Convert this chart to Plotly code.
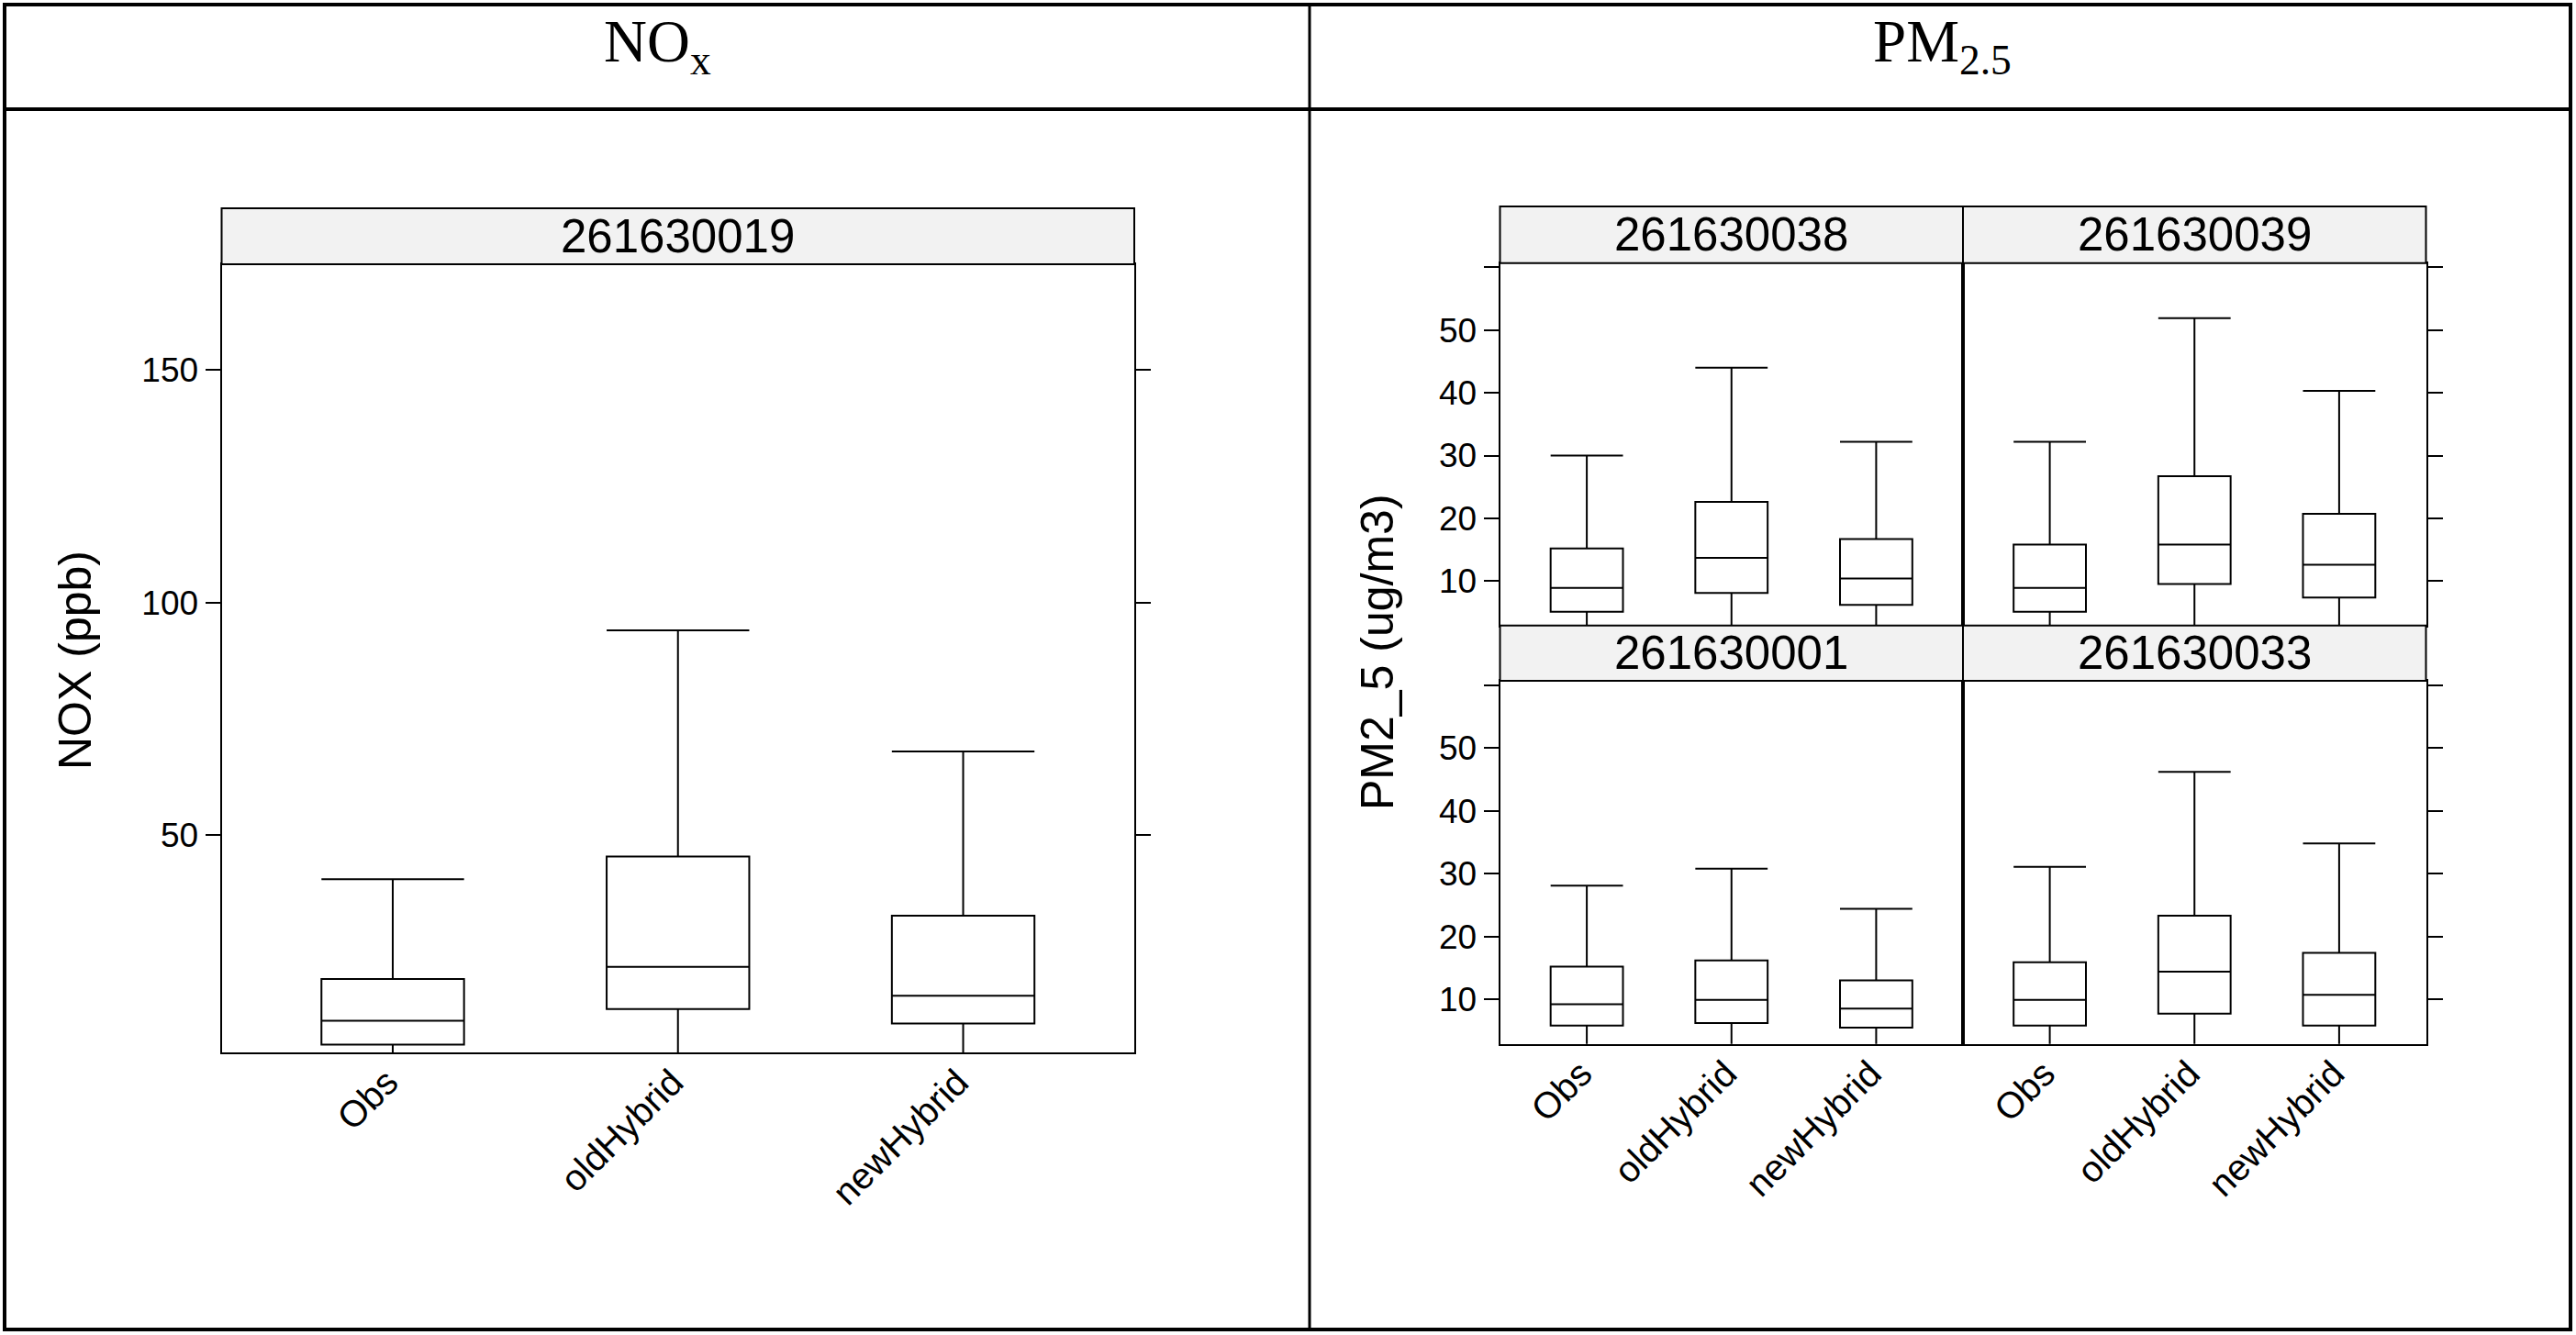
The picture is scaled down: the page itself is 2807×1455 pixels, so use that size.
import plotly.graph_objects as go

W, H = 2807, 1455

# ---------------- data ----------------
categories = ["Obs", "oldHybrid", "newHybrid"]

# NOx, site 261630019
nox_site = "261630019"
nox_lower = [1.0, 1.5, 1.0]
nox_q1 = [5.0, 12.6, 9.5]
nox_median = [10.1, 21.7, 15.5]
nox_q3 = [19.1, 45.4, 32.7]
nox_upper = [40.5, 94.0, 68.0]
nox_ticks = [50, 100, 150]

# PM2.5 sites (upper-left, upper-right, lower-left, lower-right)
pm_sites = ["261630038", "261630039", "261630001", "261630033"]
pm_lower = [[1.0, 1.0, 1.0], [1.0, 1.0, 1.0], [1.0, 1.0, 1.0], [1.0, 1.0, 1.0]]
pm_q1 = [[5.1, 8.1, 6.2], [5.1, 9.5, 7.35], [5.8, 6.2, 5.5], [5.8, 7.7, 5.8]]
pm_median = [[8.9, 13.7, 10.4], [8.9, 15.8, 12.6], [9.2, 9.9, 8.5], [9.9, 14.4, 10.7]]
pm_q3 = [[15.2, 22.6, 16.7], [15.8, 26.7, 20.7], [15.2, 16.2, 13.0], [15.9, 23.3, 17.4]]
pm_upper = [[30.0, 44.0, 32.2], [32.2, 51.9, 40.3], [28.1, 30.8, 24.4], [31.1, 46.2, 34.8]]
pm_tickvals = [10, 20, 30, 40, 50]
pm_unlabeled_ticks = [60]
pm_all_ticks = [10, 20, 30, 40, 50, 60]

header_titles = ["NO<sub>x</sub>", "PM<sub>2.5</sub>"]
nox_ylabel = "NOX (ppb)"
pm_ylabel = "PM2_5 (ug/m3)"

# ---------------- helpers ----------------
def fx(x):
    return x / W

def fy(y):
    return 1 - y / H

SANS = "Liberation Sans, Arial, sans-serif"
SERIF = "Liberation Serif, Times New Roman, serif"
TICK_SIZE = 37
XTICK_SIZE = 40
STRIP_SIZE = 51
TITLE_SIZE = 50
LW = 2

fig = go.Figure()

def add_box(xref, yref, q1, med, q3, lo, hi):
    fig.add_trace(go.Box(
        x=categories, q1=q1, median=med, q3=q3, lowerfence=lo, upperfence=hi,
        xaxis=xref, yaxis=yref, width=0.5, whiskerwidth=1,
        fillcolor="rgba(0,0,0,0)", line=dict(color="black", width=LW),
        boxpoints=False, showlegend=False, hoverinfo="skip",
    ))

add_box("x", "y", nox_q1, nox_median, nox_q3, nox_lower, nox_upper)
for i in range(4):
    add_box(f"x{i+2}", f"y{i+2}", pm_q1[i], pm_median[i], pm_q3[i], pm_lower[i], pm_upper[i])

# ---------------- geometry (pixels) ----------------
left_x = (241.5, 1236)
left_plot_y = (288, 1147)
left_strip_y = (227, 288)

pm_cols = [(1634.5, 2139), (2139, 2643.5)]
pm_rows_plot = [(286.7, 681.7), (742, 1137.7)]
pm_rows_strip = [(225, 286.7), (681.7, 742)]

common_x = dict(type="category", categoryorder="array", categoryarray=categories,
                range=[-0.6, 2.6], showline=True, linecolor="black", linewidth=LW,
                mirror=True, ticks="", showgrid=False, zeroline=False,
                tickangle=-45, ticklabelstandoff=-9, ticklabelshift=-6,
                tickfont=dict(family=SANS, size=XTICK_SIZE, color="black"))
common_y = dict(showline=True, linecolor="black", linewidth=LW, showgrid=False,
                zeroline=False, ticks="outside", ticklen=16, tickwidth=LW, tickcolor="black",
                tickfont=dict(family=SANS, size=TICK_SIZE, color="black"))

layout = dict(
    width=W, height=H, autosize=False,
    margin=dict(l=0, r=0, t=0, b=0),
    paper_bgcolor="white", plot_bgcolor="white",
    showlegend=False,
)

layout["xaxis"] = dict(common_x, domain=[fx(left_x[0]), fx(left_x[1])], anchor="y")
layout["yaxis"] = dict(common_y, domain=[fy(left_plot_y[1]), fy(left_plot_y[0])], anchor="x",
                       range=[3.3, 172.7], tickmode="array", tickvals=nox_ticks, mirror="ticks")

minor_common = dict(tickmode="array", ticks="outside", ticklen=16, tickwidth=LW,
                    tickcolor="black", showgrid=False)

for i in range(4):
    r, c = divmod(i, 2)
    n = i + 2
    xd = [fx(pm_cols[c][0]), fx(pm_cols[c][1])]
    yd = [fy(pm_rows_plot[r][1]), fy(pm_rows_plot[r][0])]
    xax = dict(common_x, domain=xd, anchor=f"y{n}")
    if r == 0:
        xax["tickmode"] = "array"
        xax["tickvals"] = []
        xax["showticklabels"] = False
    layout[f"xaxis{n}"] = xax
    yax = dict(common_y, domain=yd, anchor=f"x{n}", range=[2.9, 60.7],
               tickmode="array", mirror=True)
    if c == 0:
        yax["tickvals"] = pm_tickvals
        yax["minor"] = dict(minor_common, tickvals=pm_unlabeled_ticks)
    else:
        yax["side"] = "right"
        yax["tickvals"] = []
        yax["showticklabels"] = False
        yax["minor"] = dict(minor_common, tickvals=pm_all_ticks)
    layout[f"yaxis{n}"] = yax

shapes = []
annotations = []

# table lines
shapes.append(dict(type="rect", xref="paper", yref="paper", x0=fx(5), x1=fx(2801),
                   y0=fy(1449), y1=fy(5), line=dict(color="black", width=4)))
shapes.append(dict(type="line", xref="paper", yref="paper", x0=fx(5), x1=fx(2801),
                   y0=fy(119), y1=fy(119), line=dict(color="black", width=4)))
shapes.append(dict(type="line", xref="paper", yref="paper", x0=fx(1427), x1=fx(1427),
                   y0=fy(1449), y1=fy(5), line=dict(color="black", width=3)))

# headers
for title, cx in zip(header_titles, [716, 2116]):
    annotations.append(dict(text=title, x=fx(cx), y=fy(50), xref="paper", yref="paper",
                            xanchor="center", yanchor="middle", showarrow=False,
                            font=dict(family=SERIF, size=65, color="black")))

# strips
def strip(x0, x1, y0, y1, label):
    shapes.append(dict(type="rect", xref="paper", yref="paper", x0=fx(x0), x1=fx(x1),
                       y0=fy(y1), y1=fy(y0), fillcolor="#f2f2f2",
                       line=dict(color="black", width=LW)))
    annotations.append(dict(text=label, x=fx((x0 + x1) / 2), y=fy((y0 + y1) / 2),
                            xref="paper", yref="paper", xanchor="center", yanchor="middle",
                            showarrow=False, font=dict(family=SANS, size=STRIP_SIZE, color="black")))

strip(left_x[0], left_x[1], left_strip_y[0], left_strip_y[1], nox_site)
for i in range(4):
    r, c = divmod(i, 2)
    strip(pm_cols[c][0], pm_cols[c][1], pm_rows_strip[r][0], pm_rows_strip[r][1], pm_sites[i])

# y-axis titles
annotations.append(dict(text=nox_ylabel, x=fx(82), y=fy(720), xref="paper", yref="paper",
                        xanchor="center", yanchor="middle", textangle=-90, showarrow=False,
                        font=dict(family=SANS, size=TITLE_SIZE, color="black")))
annotations.append(dict(text=pm_ylabel, x=fx(1501), y=fy(711), xref="paper", yref="paper",
                        xanchor="center", yanchor="middle", textangle=-90, showarrow=False,
                        font=dict(family=SANS, size=TITLE_SIZE, color="black")))

layout["shapes"] = shapes
layout["annotations"] = annotations
fig.update_layout(**layout)

fig.write_html("out.html", config={"displayModeBar": False},
               post_script="document.body.style.margin='0px';")
